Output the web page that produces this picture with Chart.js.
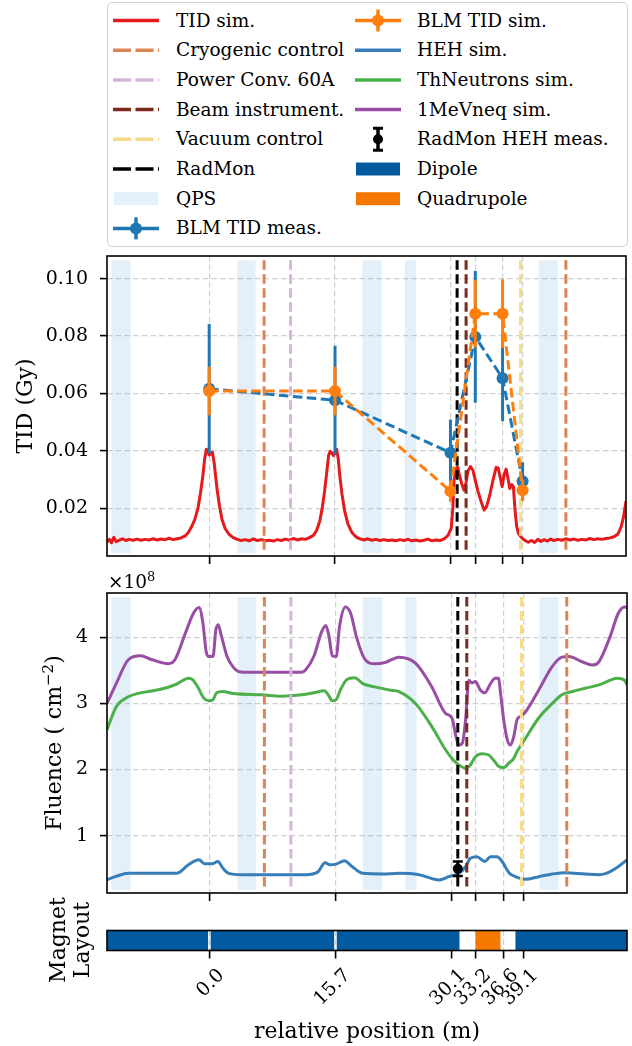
<!DOCTYPE html>
<html>
<head>
<meta charset="utf-8">
<script src="https://cdn.jsdelivr.net/npm/chart.js@4.4.0/dist/chart.umd.min.js"></script>
<style>
  body { margin: 0; background: #fff; width: 632px; height: 1046px; position: relative; overflow: hidden;
         font-family: 'DejaVu Serif', serif; color: #000; }
  canvas { position: absolute; left: 0; }
  .t { position: absolute; white-space: nowrap; font-family: 'DejaVu Serif', serif; font-size: 18.5px; line-height: 24px; height: 24px; }
  .rot { position: absolute; white-space: nowrap; text-align: center; transform: rotate(-90deg); font-family: 'DejaVu Serif', serif; font-size: 22px; }
  #legendBox { position: absolute; left: 107px; top: 2px; width: 521px; height: 245px; box-sizing: border-box;
               border: 1.5px solid #d0d0d0; border-radius: 5px; background: #fff; }
  #legendSwatches { position: absolute; left: 0; top: 0; }
</style>
</head>
<body>
<div id="legendBox"></div>
<svg id="legendSwatches" width="632" height="250"></svg>

<canvas id="tid" width="632" height="320" style="top:246px"></canvas>
<canvas id="flu" width="632" height="339" style="top:566px"></canvas>
<canvas id="mag" width="632" height="141" style="top:905px"></canvas>

<div class="rot" style="left:-125px;top:391px;width:300px;height:30px;line-height:30px;">TID (Gy)</div>
<div class="rot" style="left:-96px;top:728px;width:300px;height:30px;line-height:30px;">Fluence ( cm<span style="position:relative;top:-8px;font-size:15px;">−2</span>)</div>
<div class="rot" style="left:10px;top:916px;width:120px;height:48px;line-height:24px;">Magnet<br>Layout</div>
<div class="t" style="left:108px;top:570px;">×10<span style="position:relative;top:-7px;font-size:13px;">8</span></div>
<div class="t" style="left:217px;top:1017px;width:300px;text-align:center;font-size:22px;line-height:28px;height:28px;">relative position (m)</div>

<script>
// x axis (relative position, m)
const xMin = -12.75, xMax = 52.0;
const xTicks = [0.0, 15.7, 30.1, 33.2, 36.6, 39.1];

// TID sim. (Gy)
const tidSimX = [-12.75, -12.45, -12.2, -11.9, -11.6, -11.2, -10.8, -10.4, -10.0, -9.5, -9.0, -8.5, -8.0, -7.5, -7.0, -6.5, -6.0, -5.5, -5.0, -4.5, -4.0, -3.5, -3.0, -2.6, -2.2, -1.8, -1.4, -1.1, -0.8, -0.55, -0.35, -0.15, 0.0, 0.2, 0.4, 0.6, 0.8, 1.0, 1.3, 1.6, 2.0, 2.5, 3.0, 3.5, 4.0, 4.5, 5.0, 5.5, 6.0, 6.5, 7.0, 7.5, 8.0, 8.5, 9.0, 9.5, 10.0, 10.5, 11.0, 11.5, 12.0, 12.5, 13.0, 13.4, 13.8, 14.1, 14.4, 14.65, 14.9, 15.1, 15.3, 15.5, 15.7, 15.9, 16.1, 16.3, 16.55, 16.9, 17.3, 17.8, 18.3, 18.8, 19.3, 19.8, 20.3, 20.8, 21.3, 21.8, 22.3, 22.8, 23.3, 23.8, 24.3, 24.8, 25.3, 25.8, 26.3, 26.8, 27.3, 27.8, 28.3, 28.8, 29.3, 29.8, 30.2, 30.4, 30.55, 30.75, 31.0, 31.25, 31.5, 31.8, 32.05, 32.3, 32.6, 32.9, 33.2, 33.5, 33.9, 34.3, 34.6, 35.0, 35.4, 35.8, 36.05, 36.3, 36.55, 36.8, 37.05, 37.3, 37.5, 37.75, 37.95, 38.15, 38.35, 38.6, 39.0, 39.4, 39.8, 40.2, 40.6, 41.0, 41.4, 41.8, 42.2, 42.6, 43.0, 43.5, 44.0, 44.5, 45.0, 45.5, 46.0, 46.5, 47.0, 47.5, 48.0, 48.5, 49.0, 49.5, 50.0, 50.5, 51.0, 51.4, 51.7, 52.0];
const tidSimY = [0.0082, 0.0091, 0.0079, 0.0098, 0.0083, 0.0088, 0.0093, 0.0087, 0.0091, 0.0088, 0.0092, 0.0088, 0.0091, 0.0089, 0.0093, 0.0089, 0.0092, 0.0090, 0.0095, 0.0090, 0.0093, 0.0096, 0.0103, 0.0115, 0.0135, 0.0160, 0.0200, 0.0250, 0.0310, 0.0375, 0.0405, 0.0398, 0.0385, 0.0390, 0.0395, 0.0362, 0.0312, 0.0262, 0.0205, 0.0160, 0.0128, 0.0108, 0.0097, 0.0091, 0.0087, 0.0090, 0.0086, 0.0093, 0.0087, 0.0090, 0.0086, 0.0088, 0.0085, 0.0090, 0.0087, 0.0092, 0.0088, 0.0094, 0.0089, 0.0093, 0.0091, 0.0097, 0.0105, 0.0122, 0.0155, 0.0200, 0.0260, 0.0320, 0.0385, 0.0398, 0.0392, 0.0383, 0.0395, 0.0405, 0.0372, 0.0312, 0.0252, 0.0190, 0.0145, 0.0115, 0.0100, 0.0093, 0.0089, 0.0093, 0.0088, 0.0091, 0.0087, 0.0090, 0.0087, 0.0089, 0.0086, 0.0090, 0.0087, 0.0091, 0.0086, 0.0089, 0.0085, 0.0088, 0.0092, 0.0086, 0.0089, 0.0087, 0.0093, 0.0105, 0.0130, 0.0200, 0.0300, 0.0338, 0.0342, 0.0312, 0.0285, 0.0262, 0.0290, 0.0330, 0.0345, 0.0332, 0.0297, 0.0262, 0.0225, 0.0193, 0.0205, 0.0245, 0.0297, 0.0342, 0.0340, 0.0308, 0.0275, 0.0318, 0.0336, 0.0300, 0.0268, 0.0282, 0.0275, 0.0195, 0.0138, 0.0110, 0.0096, 0.0087, 0.0081, 0.0087, 0.0080, 0.0091, 0.0084, 0.0090, 0.0085, 0.0092, 0.0087, 0.0091, 0.0088, 0.0093, 0.0089, 0.0092, 0.0088, 0.0091, 0.0089, 0.0094, 0.0090, 0.0093, 0.0091, 0.0094, 0.0096, 0.0100, 0.0110, 0.0135, 0.0170, 0.0225];

// BLM TID (Gy) at the monitor positions
const blmPos = [0.0, 15.7, 30.1, 33.2, 36.6, 39.1];
const blmMeas = [0.0616, 0.0576, 0.0393, 0.0797, 0.0653, 0.0294];
const blmMeasErr = [0.0226, 0.0190, 0.0116, 0.0230, 0.0150, 0.0066];
const blmSim = [0.0608, 0.0608, 0.0259, 0.0878, 0.0878, 0.0262];
const blmSimErr = [0.0085, 0.0085, 0.0037, 0.0118, 0.0120, 0.0037];

// fluence sims (x 1e8 cm^-2)
const neqX = [-12.75, -11.6, -10.1, -8.6, -7.1, -5.1, -4.3, -3.0, -2.0, -1.3, -0.8, -0.4, -0.05, 0.45, 0.8, 1.1, 1.45, 2.2, 2.9, 3.7, 5.0, 8.0, 11.5, 12.0, 13.0, 14.0, 14.5, 14.9, 15.3, 15.8, 16.2, 16.95, 17.6, 18.3, 19.3, 20.6, 21.9, 23.6, 25.66, 27.7, 29.4, 30.2, 30.7, 31.05, 31.5, 31.9, 32.3, 32.7, 33.1, 33.75, 34.3, 35.0, 35.6, 36.0, 36.25, 36.65, 37.1, 37.5, 37.9, 38.3, 38.7, 39.35, 41.0, 42.7, 43.9, 44.75, 46.4, 47.65, 48.5, 49.9, 50.9, 51.7, 52.0];
const neqY = [3.00, 3.30, 3.66, 3.72, 3.66, 3.60, 3.66, 4.06, 4.36, 4.45, 4.21, 3.78, 3.71, 3.71, 4.11, 4.19, 4.04, 3.71, 3.56, 3.48, 3.47, 3.47, 3.47, 3.51, 3.71, 4.09, 4.18, 4.01, 3.72, 3.71, 4.16, 4.46, 4.36, 4.01, 3.68, 3.60, 3.62, 3.70, 3.61, 3.25, 2.85, 2.78, 2.50, 2.37, 2.40, 2.75, 3.35, 3.31, 3.33, 3.20, 3.16, 3.30, 3.38, 3.38, 3.16, 2.75, 2.45, 2.37, 2.50, 2.75, 2.80, 2.87, 3.20, 3.56, 3.70, 3.71, 3.63, 3.58, 3.63, 4.01, 4.36, 4.46, 4.45];
const thX = [-12.75, -11.6, -10.1, -8.6, -6.2, -4.1, -2.6, -2.1, -1.36, -0.7, -0.1, 0.4, 0.9, 1.67, 2.9, 6.5, 9.0, 11.5, 13.0, 14.3, 14.8, 15.3, 15.8, 16.3, 17.1, 18.1, 19.1, 20.6, 22.6, 23.6, 25.66, 27.7, 29.4, 30.4, 31.05, 31.9, 32.5, 33.1, 33.9, 34.8, 35.4, 36.0, 36.65, 37.3, 37.9, 38.3, 39.35, 41.0, 42.7, 43.9, 45.2, 46.8, 48.5, 49.9, 50.8, 51.7, 52.0];
const thY = [2.60, 2.95, 3.10, 3.16, 3.21, 3.29, 3.38, 3.36, 3.23, 3.08, 3.04, 3.05, 3.16, 3.18, 3.15, 3.13, 3.11, 3.13, 3.16, 3.19, 3.13, 3.04, 3.06, 3.20, 3.36, 3.39, 3.30, 3.25, 3.20, 3.18, 3.00, 2.65, 2.30, 2.14, 2.07, 2.02, 2.07, 2.19, 2.24, 2.22, 2.14, 2.05, 2.03, 2.10, 2.17, 2.27, 2.47, 2.78, 3.00, 3.13, 3.18, 3.23, 3.28, 3.35, 3.38, 3.35, 3.28];
const hehX = [-12.75, -11.0, -10.0, -4.1, -2.6, -1.3, -0.6, 0.4, 1.06, 1.67, 2.4, 4.0, 12.0, 13.5, 14.4, 15.0, 15.8, 16.8, 17.8, 19.1, 21.6, 23.6, 26.1, 28.6, 29.8, 31.05, 31.9, 32.5, 33.3, 34.3, 35.0, 35.8, 36.45, 37.3, 38.1, 39.35, 41.0, 42.7, 44.3, 46.8, 48.5, 49.4, 50.9, 52.0];
const hehY = [0.333, 0.41, 0.43, 0.43, 0.56, 0.635, 0.575, 0.575, 0.61, 0.51, 0.43, 0.41, 0.41, 0.45, 0.59, 0.56, 0.57, 0.62, 0.53, 0.43, 0.42, 0.43, 0.41, 0.33, 0.38, 0.43, 0.53, 0.66, 0.68, 0.61, 0.68, 0.68, 0.61, 0.44, 0.38, 0.34, 0.38, 0.42, 0.44, 0.42, 0.41, 0.43, 0.53, 0.635];

// RadMon HEH measurement
const radmonMeasX = [30.93];
const radmonMeasY = [0.50];
const radmonMeasErr = [0.11];

// equipment positions (m)
const qpsStart = [-12.2, 3.5, 19.1, 24.4, 41.1];
const qpsEnd = [-9.8, 5.8, 21.5, 25.8, 43.5];
const cryoPos = [6.85, 44.5];
const powerConvPos = [10.15];
const beamInstrPos = [32.05];
const vacuumPos = [38.85];
const radmonPos = [30.93];

// magnet layout
const magnetStart = [-12.75, 0.2, 15.9, 33.17, 38.15];
const magnetEnd = [-0.2, 15.5, 31.1, 36.2, 52.0];
const magnetType = ['Dipole', 'Dipole', 'Dipole', 'Quadrupole', 'Dipole'];

const colors = {
  tidSim: '#e41a1c', blmMeas: '#1f77b4', blmSim: '#ff7f0e',
  heh: '#377eb8', th: '#4daf4a', neq: '#984ea3',
  cryo: '#dd8452', power: '#d5b5de', beam: '#7b2a20', vacuum: '#f7dc87', radmon: '#000000',
  qps: 'rgba(100,170,225,0.18)', Dipole: '#045a9f', Quadrupole: '#f57900'
};
const gridColor = '#cfcfcf';
const dash = [9.5, 4.5];

// vertical extent of spans / marker lines per panel
const panelSpan = { tid: [0.0043, 0.1064], flu: [0.18, 4.61] };

Chart.defaults.font.family = 'DejaVu Serif';
Chart.defaults.font.size = 19;
Chart.defaults.color = '#000';

const panelPlugin = {
  id: 'panel',
  beforeDatasetsDraw(chart, args, opts) {
    const span = panelSpan[opts.name];
    if (!span) return;
    const {ctx, scales: {x, y}} = chart;
    const yt = y.getPixelForValue(span[1]), yb = y.getPixelForValue(span[0]);
    ctx.save();
    ctx.fillStyle = colors.qps;
    qpsStart.forEach((s, i) => {
      const x0 = x.getPixelForValue(s), x1 = x.getPixelForValue(qpsEnd[i]);
      ctx.fillRect(x0, yt, x1 - x0, yb - yt);
    });
    ctx.restore();
  },
  beforeDatasetDraw(chart, args) {
    const ds = chart.data.datasets[args.index];
    if (!ds.errors) return;
    const {ctx, scales: {y}} = chart;
    ctx.save();
    ctx.strokeStyle = ds.borderColor === 'transparent' ? ds.backgroundColor : ds.borderColor;
    ctx.lineWidth = ds.errorWidth || 3;
    ctx.lineCap = 'butt';
    args.meta.data.forEach((pt, i) => {
      const v = ds.data[i].y, e = ds.errors[i];
      const yt = y.getPixelForValue(v + e), yb = y.getPixelForValue(v - e);
      ctx.beginPath();
      ctx.moveTo(pt.x, yt); ctx.lineTo(pt.x, yb);
      if (ds.capSize) {
        ctx.moveTo(pt.x - ds.capSize, yt); ctx.lineTo(pt.x + ds.capSize, yt);
        ctx.moveTo(pt.x - ds.capSize, yb); ctx.lineTo(pt.x + ds.capSize, yb);
      }
      ctx.stroke();
    });
    ctx.restore();
  },
  afterDraw(chart) {
    const {ctx, chartArea: a} = chart;
    ctx.save();
    ctx.strokeStyle = '#000';
    ctx.lineWidth = 1.6;
    ctx.strokeRect(a.left, a.top, a.right - a.left, a.bottom - a.top);
    ctx.restore();
  }
};
Chart.register(panelPlugin);

function pts(xs, ys) { return xs.map((x, i) => ({x: x, y: ys[i]})); }

function vlines(pos, color, span, order) {
  return pos.map(p => ({
    data: [{x: p, y: span[1]}, {x: p, y: span[0]}],
    borderColor: color, borderWidth: 3, borderDash: dash, pointRadius: 0, order: order
  }));
}

function markerLines(span) {
  return [].concat(
    vlines(radmonPos, colors.radmon, span, 3),
    vlines(beamInstrPos, colors.beam, span, 3),
    vlines(vacuumPos, colors.vacuum, span, 3),
    vlines(cryoPos, colors.cryo, span, 3),
    vlines(powerConvPos, colors.power, span, 3)
  );
}

function xScale(height, tickLen) {
  return {
    type: 'linear', min: xMin, max: xMax,
    afterBuildTicks: s => { s.ticks = xTicks.map(v => ({value: v})); },
    afterFit: s => { s.height = height; s.paddingLeft = 0; s.paddingRight = 0; },
    grid: { color: gridColor, lineWidth: 1.2, tickColor: '#000', tickWidth: 1.6, tickLength: tickLen, tickBorderDash: [] },
    border: { display: false, dash: [5.5, 3.2] },
    ticks: { display: false }
  };
}

function yScale(min, max, tickVals, fmt) {
  return {
    min: min, max: max,
    afterBuildTicks: s => { s.ticks = tickVals.map(v => ({value: v})); },
    afterFit: s => { s.width = 107; s.paddingTop = 0; s.paddingBottom = 0; },
    grid: { color: gridColor, lineWidth: 1.2, tickColor: '#000', tickWidth: 1.6, tickLength: 7, tickBorderDash: [] },
    border: { display: false, dash: [5.5, 3.2] },
    ticks: { padding: 12, callback: fmt }
  };
}

const common = {
  responsive: false, animation: false, devicePixelRatio: 1,
  plugins: { legend: { display: false }, tooltip: { enabled: false } }
};

// TID panel
new Chart(document.getElementById('tid'), {
  type: 'line',
  data: { datasets: [
    { data: pts(blmPos, blmSim), errors: blmSimErr, borderColor: colors.blmSim, backgroundColor: colors.blmSim,
      borderWidth: 3, borderDash: dash, pointRadius: 6, pointBorderWidth: 0, order: 1 },
    { data: pts(blmPos, blmMeas), errors: blmMeasErr, borderColor: colors.blmMeas, backgroundColor: colors.blmMeas,
      borderWidth: 3, borderDash: dash, pointRadius: 6, pointBorderWidth: 0, order: 2 },
    ...markerLines(panelSpan.tid),
    { data: pts(tidSimX, tidSimY), borderColor: colors.tidSim, borderWidth: 3, pointRadius: 0,
      borderJoinStyle: 'round', order: 10 }
  ]},
  options: Object.assign({}, common, {
    layout: { padding: { left: 0, right: 5, top: 10, bottom: 0 } },
    plugins: Object.assign({}, common.plugins, { panel: { name: 'tid' } }),
    scales: {
      x: xScale(10, 8),
      y: yScale(0.0033, 0.1079, [0.02, 0.04, 0.06, 0.08, 0.10], v => v.toFixed(2))
    }
  })
});

// Fluence panel
new Chart(document.getElementById('flu'), {
  type: 'line',
  data: { datasets: [
    { data: pts(radmonMeasX, radmonMeasY), errors: radmonMeasErr, capSize: 5, borderColor: 'transparent',
      backgroundColor: '#000', errorWidth: 2.5, showLine: false, pointRadius: 5, pointBorderWidth: 0, order: 0 },
    ...markerLines(panelSpan.flu),
    { data: pts(neqX, neqY), borderColor: colors.neq, borderWidth: 3, pointRadius: 0, cubicInterpolationMode: 'monotone', order: 5 },
    { data: pts(thX, thY), borderColor: colors.th, borderWidth: 3, pointRadius: 0, cubicInterpolationMode: 'monotone', order: 6 },
    { data: pts(hehX, hehY), borderColor: colors.heh, borderWidth: 3, pointRadius: 0, cubicInterpolationMode: 'monotone', order: 7 }
  ]},
  options: Object.assign({}, common, {
    layout: { padding: { left: 0, right: 5, top: 27, bottom: 0 } },
    plugins: Object.assign({}, common.plugins, { panel: { name: 'flu' } }),
    scales: {
      x: xScale(12, 8),
      y: yScale(0.133, 4.67, [1, 2, 3, 4], v => String(v))
    }
  })
});

// Magnet layout strip
new Chart(document.getElementById('mag'), {
  type: 'bar',
  data: {
    labels: ['layout'],
    datasets: [{
      data: magnetStart.map((s, i) => ({x: [s, magnetEnd[i]], y: 'layout'})),
      backgroundColor: magnetType.map(t => colors[t]),
      borderWidth: 0, barPercentage: 1, categoryPercentage: 1, grouped: false
    }]
  },
  options: Object.assign({}, common, {
    indexAxis: 'y',
    layout: { padding: { left: 107, right: 5, top: 25.5, bottom: 0 } },
    plugins: Object.assign({}, common.plugins, { panel: { name: 'mag' } }),
    scales: {
      x: Object.assign(xScale(95.5, 8), {
        ticks: { autoSkip: false, minRotation: 45, maxRotation: 45, padding: 6, labelOffset: 12,
                 callback: v => v.toFixed(1) }
      }),
      y: { display: false }
    }
  })
});

// legend (HTML text, SVG swatches)
const legendCol1 = [
  ['TID sim.', 'line', colors.tidSim],
  ['Cryogenic control', 'dash', colors.cryo],
  ['Power Conv. 60A', 'dash', colors.power],
  ['Beam instrument.', 'dash', colors.beam],
  ['Vacuum control', 'dash', colors.vacuum],
  ['RadMon', 'dash', colors.radmon],
  ['QPS', 'patch', 'rgb(228,240,250)'],
  ['BLM TID meas.', 'err', colors.blmMeas]
];
const legendCol2 = [
  ['BLM TID sim.', 'err', colors.blmSim],
  ['HEH sim.', 'line', colors.heh],
  ['ThNeutrons sim.', 'line', colors.th],
  ['1MeVneq sim.', 'line', colors.neq],
  ['RadMon HEH meas.', 'errcap', '#000'],
  ['Dipole', 'patch', colors.Dipole],
  ['Quadrupole', 'patch', colors.Quadrupole]
];
const svg = document.getElementById('legendSwatches');
let svgHtml = '';
function addItem(item, row, x0, textX) {
  const [text, kind, color] = item;
  const cy = 20.5 + 29.7 * row, x1 = x0 + 46, cx = (x0 + x1) / 2;
  if (kind === 'line' || kind === 'err')
    svgHtml += `<line x1="${x0}" y1="${cy}" x2="${x1}" y2="${cy}" stroke="${color}" stroke-width="3.5"/>`;
  if (kind === 'dash')
    svgHtml += `<line x1="${x0}" y1="${cy}" x2="${x1}" y2="${cy}" stroke="${color}" stroke-width="3.5" stroke-dasharray="18 4.5"/>`;
  if (kind === 'patch')
    svgHtml += `<rect x="${x0 + 1}" y="${cy - 6.5}" width="44" height="13" fill="${color}"/>`;
  if (kind === 'err' || kind === 'errcap') {
    svgHtml += `<line x1="${cx}" y1="${cy - 11}" x2="${cx}" y2="${cy + 11}" stroke="${color}" stroke-width="3.5"/>`;
    if (kind === 'errcap')
      svgHtml += `<path d="M${cx - 5} ${cy - 11}H${cx + 5}M${cx - 5} ${cy + 11}H${cx + 5}" stroke="${color}" stroke-width="3"/>`;
    svgHtml += `<circle cx="${cx}" cy="${cy}" r="${kind === 'err' ? 6 : 5}" fill="${color}"/>`;
  }
  const d = document.createElement('div');
  d.className = 't';
  d.style.left = textX + 'px';
  d.style.top = (cy - 12) + 'px';
  d.textContent = text;
  document.body.appendChild(d);
}
legendCol1.forEach((it, i) => addItem(it, i, 113, 176));
legendCol2.forEach((it, i) => addItem(it, i, 355, 417));
svg.innerHTML = svgHtml;
</script>
</body>
</html>
